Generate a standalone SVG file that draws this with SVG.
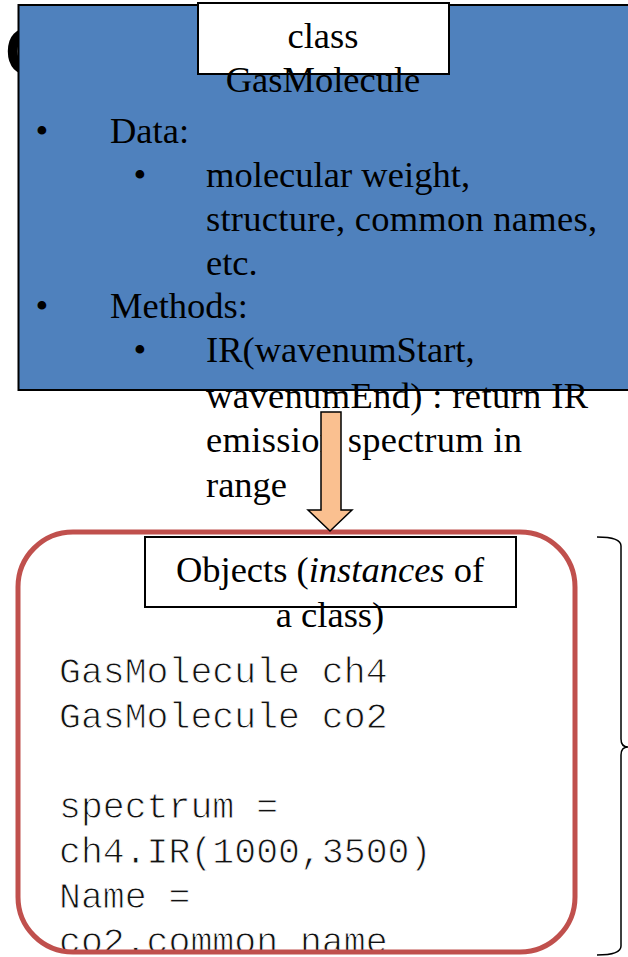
<svg xmlns="http://www.w3.org/2000/svg" width="628" height="957" viewBox="0 0 628 957">
  <style>
    .serif { font-family: "Liberation Serif", "Times New Roman", serif; font-size: 36.5px; fill: #000; }
    .mono { font-family: "Liberation Mono", "Courier New", monospace; font-size: 36.5px; fill: #111; stroke: #fff; stroke-width: 0.9px; }
    .mid { text-anchor: middle; }
    .label { fill: #fff; stroke: #000; stroke-width: 2; }
  </style>
  <rect x="0" y="0" width="628" height="957" fill="#fff"/>

  <!-- slide title, mostly hidden behind the class panel -->
  <text x="5" y="75" font-family="Liberation Sans, Arial, sans-serif" font-weight="bold" font-size="68">C</text>

  <!-- class panel -->
  <g id="class-panel">
    <rect x="18.5" y="5" width="620" height="385" fill="#4F81BD" stroke="#000" stroke-width="2"/>
    <rect class="label" x="198" y="3" width="251" height="71"/>
    <text class="serif mid" x="323" y="48">class</text>
    <text class="serif mid" x="323" y="92">GasMolecule</text>
    <text class="serif mid" x="42" y="143">•</text>
    <text class="serif" x="110" y="143">Data:</text>
    <text class="serif mid" x="140" y="187">•</text>
    <text class="serif" x="206" y="187" textLength="264" lengthAdjust="spacing">molecular weight,</text>
    <text class="serif" x="206" y="231" textLength="391" lengthAdjust="spacing">structure, common names,</text>
    <text class="serif" x="206" y="275">etc.</text>
    <text class="serif mid" x="42" y="318">•</text>
    <text class="serif" x="110" y="318">Methods:</text>
    <text class="serif mid" x="140" y="362">•</text>
    <text class="serif" x="206" y="362">IR(wavenumStart,</text>
    <text class="serif" x="206" y="408" textLength="382" lengthAdjust="spacing">wavenumEnd) : return IR</text>
    <text class="serif" x="206" y="452" textLength="316" lengthAdjust="spacing">emission spectrum in</text>
    <text class="serif" x="206" y="497">range</text>
  </g>

  <!-- objects panel -->
  <g id="objects-panel">
    <text class="mono" x="59" y="683">GasMolecule ch4</text>
    <text class="mono" x="59" y="728">GasMolecule co2</text>
    <text class="mono" x="59" y="818">spectrum =</text>
    <text class="mono" x="59" y="863">ch4.IR(1000,3500)</text>
    <text class="mono" x="59" y="908">Name =</text>
    <text class="mono" x="59" y="953">co2.common name</text>
    <rect x="18" y="532" width="557" height="420" rx="55" ry="55" fill="none" stroke="#C0504D" stroke-width="5"/>
    <rect class="label" x="145" y="537" width="371" height="70"/>
    <text class="serif mid" x="330" y="582">Objects (<tspan font-style="italic">instances</tspan> of</text>
    <text class="serif mid" x="330" y="627">a class)</text>
  </g>

  <!-- connectors -->
  <g id="connectors">
    <path d="M321,412 L341,412 L341,510 L352,510 L330,531 L308,510 L321,510 Z" fill="#FAC090" stroke="#000" stroke-width="1.5" stroke-linejoin="miter"/>
    <path d="M597,537 Q621,537 621,546 L621,739 Q621,747 628,747 Q621,747 621,755 L621,946 Q621,955 597,955" fill="none" stroke="#000" stroke-width="1.5"/>
  </g>
</svg>
